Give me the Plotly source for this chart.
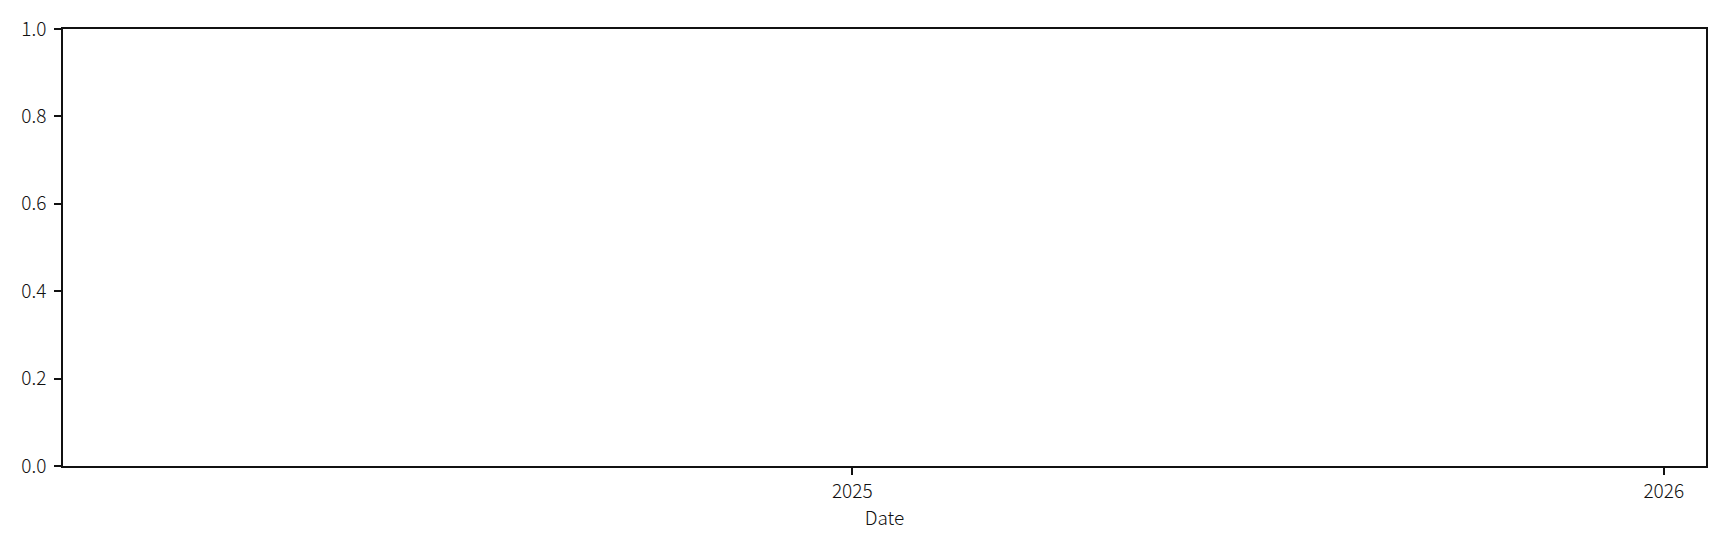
import plotly.graph_objects as go

# Data (the reference chart is empty: no series plotted)
dates = []
values = []
x_tick_dates = ["2025-01-01", "2026-01-01"]
x_tick_labels = ["2025", "2026"]
y_tick_vals = [0.0, 0.2, 0.4, 0.6, 0.8, 1.0]
y_tick_labels = ["0.0", "0.2", "0.4", "0.6", "0.8", "1.0"]
x_range = ["2024-01-12", "2026-01-20"]
y_range = [0.0, 1.0]

FONT = "Noto Sans CJK JP"
INK = "#111111"

fig = go.Figure()
fig.add_trace(go.Scatter(x=dates, y=values, mode="lines", showlegend=False))

# page body has an 8px margin, so the figure is sized/offset to compensate
fig.update_layout(
    width=1720, height=539,
    margin=dict(l=55, r=22, t=21, b=81, autoexpand=False),
    paper_bgcolor="white", plot_bgcolor="white",
    font=dict(family=FONT, size=19, color=INK, weight=300),
    showlegend=False,
)
fig.update_xaxes(
    type="date", range=x_range, automargin=False,
    tickvals=x_tick_dates, ticktext=x_tick_labels,
    showgrid=False, zeroline=False,
    showline=True, mirror=True, linecolor=INK, linewidth=1.6,
    ticks="outside", ticklen=7, tickwidth=1.6, tickcolor=INK,
    ticklabelstandoff=0,
    title=dict(text="Date", font=dict(family=FONT, size=19, color=INK, weight=300), standoff=3),
)
fig.update_yaxes(
    range=y_range, automargin=False,
    tickvals=y_tick_vals, ticktext=y_tick_labels,
    showgrid=False, zeroline=False,
    showline=True, mirror=True, linecolor=INK, linewidth=1.6,
    ticks="outside", ticklen=7, tickwidth=1.6, tickcolor=INK,
    ticklabelstandoff=4,
)

fig.write_html("out.html")
